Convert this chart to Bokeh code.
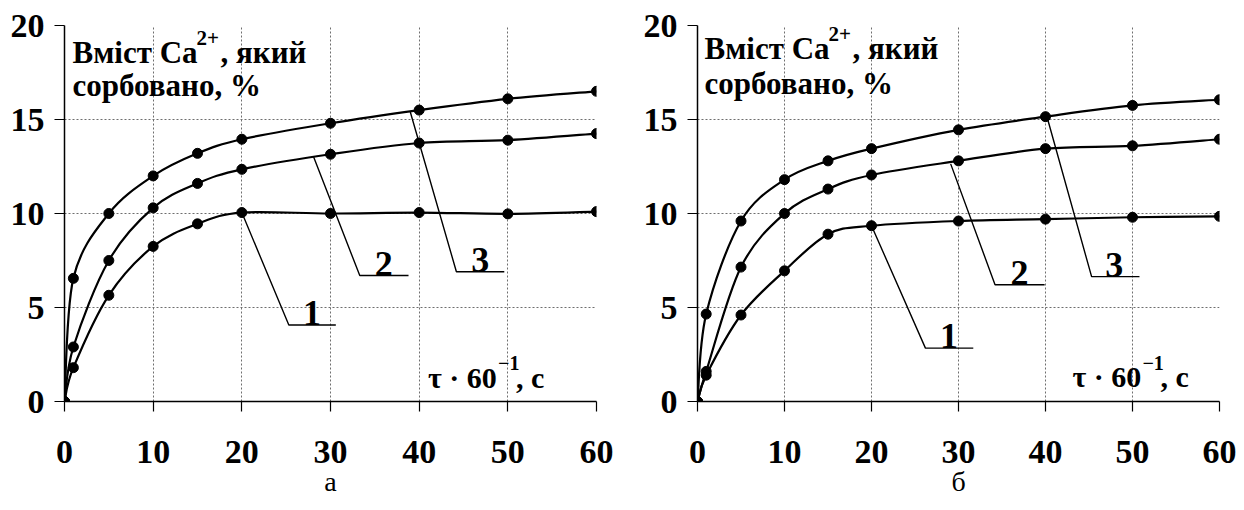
import numpy as np
from bokeh.plotting import figure
from bokeh.models import Range1d, Label, ColumnDataSource, FixedTicker
from bokeh.layouts import row
from bokeh.embed import file_html
from bokeh.resources import INLINE

# ---- data -------------------------------------------------------------
time_min = [0, 1, 5, 10, 15, 20, 30, 40, 50, 60]

# panel "а": sorbed Ca2+, %
a_curve1 = [0, 1.8, 5.65, 8.25, 9.45, 10.05, 10.0, 10.05, 9.98, 10.1]
a_curve2 = [0, 2.9, 7.5, 10.3, 11.6, 12.35, 13.15, 13.75, 13.9, 14.25]
a_curve3 = [0, 6.55, 10.0, 12.0, 13.2, 13.95, 14.8, 15.5, 16.1, 16.5]

# panel "б": sorbed Ca2+, %
b_curve1 = [0, 1.4, 4.6, 6.95, 8.9, 9.35, 9.6, 9.7, 9.8, 9.85]
b_curve2 = [0, 1.6, 7.15, 10.0, 11.3, 12.05, 12.8, 13.45, 13.6, 13.95]
b_curve3 = [0, 4.65, 9.6, 11.8, 12.8, 13.45, 14.45, 15.15, 15.75, 16.05]

x_ticks = [0, 10, 20, 30, 40, 50, 60]
y_ticks = [0, 5, 10, 15, 20]
curve_names = ["1", "2", "3"]
panel_names = ["а", "б"]

title_head = "Вміст Ca"
title_sup = "2+"
title_tail = ", який"
title_line2 = "сорбовано, %"
xname_head = "τ · 60"
xname_sup = "−1"
xname_tail = ", c"

SERIF = "Liberation Serif"


def bezier_segments(xs, ys):
    """Smooth curve through the points as cubic Bezier pieces (Catmull-Rom)."""
    pts = np.column_stack([xs, ys]).astype(float)
    ext = np.vstack([pts[0], pts, pts[-1]])
    seg = {k: [] for k in ("x0", "y0", "x1", "y1", "cx0", "cy0", "cx1", "cy1")}
    for i in range(len(pts) - 1):
        pm, p0, p1, pn = ext[i], ext[i + 1], ext[i + 2], ext[i + 3]
        c0 = p0 + (p1 - pm) / 6.0
        c1 = p1 - (pn - p0) / 6.0
        seg["x0"].append(p0[0]); seg["y0"].append(p0[1])
        seg["x1"].append(p1[0]); seg["y1"].append(p1[1])
        seg["cx0"].append(c0[0]); seg["cy0"].append(c0[1])
        seg["cx1"].append(c1[0]); seg["cy1"].append(c1[1])
    return ColumnDataSource(seg)


def text_label(p, x, y, text, size, x_offset=0, y_offset=0, align="left", style="bold"):
    p.add_layout(Label(x=x, y=y, text=text, x_offset=x_offset, y_offset=y_offset,
                       text_font=SERIF, text_font_style=style,
                       text_font_size=size, text_align=align,
                       text_baseline="alphabetic", text_color="black"))


def make_panel(curves, callouts, layout, letter):
    p = figure(width=layout["width"], height=510,
               x_range=Range1d(0, 60), y_range=Range1d(0, 20),
               output_backend="svg", toolbar_location=None,
               min_border_left=layout["left"], min_border_right=layout["right"],
               min_border_top=layout["top"], min_border_bottom=layout["bottom"])
    p.outline_line_color = None
    p.background_fill_color = "white"
    p.border_fill_color = "white"

    # dotted grid
    p.xgrid.ticker = FixedTicker(ticks=x_ticks)
    p.ygrid.ticker = FixedTicker(ticks=y_ticks)
    for g in (p.xgrid, p.ygrid):
        g.grid_line_color = "#6e6e6e"
        g.grid_line_dash = "2 2"
        g.grid_line_width = 1

    # axes
    p.xaxis.ticker = FixedTicker(ticks=x_ticks)
    p.yaxis.ticker = FixedTicker(ticks=y_ticks)
    for ax in (p.xaxis, p.yaxis):
        ax.axis_line_color = "black"
        ax.axis_line_width = 1.5
        ax.major_tick_line_color = "black"
        ax.major_tick_line_width = 1.2
        ax.major_tick_out = 10
        ax.major_tick_in = 0
        ax.minor_tick_line_color = None
        ax.major_label_text_font = SERIF
        ax.major_label_text_font_style = "bold"
        ax.major_label_text_font_size = "34px"
        ax.major_label_text_color = "black"
    p.xaxis.major_label_standoff = 29
    p.yaxis.major_label_standoff = 10

    # panel letter under the x axis
    p.xaxis.axis_label = letter
    p.xaxis.axis_label_text_font = SERIF
    p.xaxis.axis_label_text_font_style = "normal"
    p.xaxis.axis_label_text_font_size = "28px"
    p.xaxis.axis_label_text_color = "black"
    p.xaxis.axis_label_standoff = 0

    # curves with markers
    for ys in curves:
        p.bezier("x0", "y0", "x1", "y1", "cx0", "cy0", "cx1", "cy1",
                 source=bezier_segments(time_min, ys),
                 line_color="black", line_width=2.2)
        p.scatter(time_min, ys, size=10, color="black")

    # callout leaders with curve numbers
    for name, (pts, tx) in zip(curve_names, callouts):
        p.line([q[0] for q in pts], [q[1] for q in pts],
               line_color="black", line_width=1.4)
        text_label(p, tx, pts[-1][1], name, "36px", y_offset=12, align="center")

    # y-axis caption inside the frame
    tx, ty1, ty2, tdy = layout["title"]
    text_label(p, 0, ty1, title_head, "31px", x_offset=tx, y_offset=tdy)
    text_label(p, 0, ty1, title_sup, "21px", x_offset=tx + 124, y_offset=tdy + 14)
    text_label(p, 0, ty1, title_tail, "31px", x_offset=tx + 148, y_offset=tdy)
    text_label(p, 0, ty2, title_line2, "31px", x_offset=tx, y_offset=tdy)

    # x-axis caption inside the frame
    xx, xy, xdy = layout["xname"]
    text_label(p, xx, xy, xname_head, "30px", y_offset=xdy)
    text_label(p, xx, xy, xname_sup, "20px", x_offset=70, y_offset=xdy + 14)
    text_label(p, xx, xy, xname_tail, "30px", x_offset=88, y_offset=xdy)
    return p


callouts_a = [
    ([(20, 10.05), (25.3, 4.07), (30.6, 4.07)], 27.9),
    ([(28.1, 13.0), (33.3, 6.7), (38.8, 6.7)], 36.0),
    ([(39.0, 15.4), (44.2, 6.9), (49.6, 6.9)], 46.9),
]
callouts_b = [
    ([(20, 9.35), (26.2, 2.84), (31.7, 2.84)], 28.9),
    ([(29.1, 12.64), (34.2, 6.21), (39.9, 6.21)], 37.0),
    ([(40.2, 15.09), (45.3, 6.64), (50.8, 6.64)], 47.9),
]

layout_a = dict(width=622, left=64, right=26, top=20, bottom=107,
                title=(8, 17.77, 16.0, 15), xname=(41.0, 0.96, 6))
layout_b = dict(width=622, left=75, right=25, top=25, bottom=109,
                title=(7, 18.14, 16.27, 12), xname=(43.1, 0.84, 9))

p_a = make_panel([a_curve1, a_curve2, a_curve3], callouts_a, layout_a, panel_names[0])
p_b = make_panel([b_curve1, b_curve2, b_curve3], callouts_b, layout_b, panel_names[1])

page = row(p_a, p_b)
open("out.html", "w").write(file_html(page, INLINE))
